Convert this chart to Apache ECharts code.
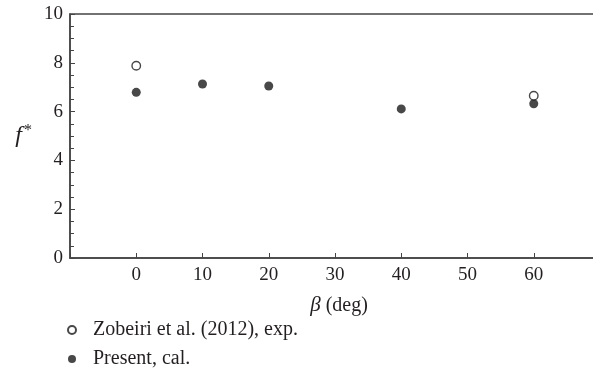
<!DOCTYPE html>
<html>
<head>
<meta charset="utf-8">
<script src="https://cdn.jsdelivr.net/npm/echarts@6/dist/echarts.min.js"></script>
<style>
  html, body { margin: 0; padding: 0; background: #fff; }
  #chart { width: 593px; height: 373px; }
</style>
</head>
<body>
<div id="chart"></div>
<script>
// angle beta (deg) and friction factor values
const expAngles = [0, 60];
const expValues = [7.88, 6.65];
const calAngles = [0, 10, 20, 40, 60];
const calValues = [6.79, 7.13, 7.05, 6.11, 6.32];
const seriesNames = ['Zobeiri et al. (2012), exp.', 'Present, cal.'];

const font = 'Liberation Serif';
const ink = '#231f20';

const chart = echarts.init(document.getElementById('chart'));

const option = {
    animation: false,
    textStyle: { fontFamily: font, color: ink },
    grid: {
        left: 70, top: 14, width: 530, height: 244,
        containLabel: false,
        outerBoundsMode: 'none',
        show: true, borderColor: '#444', borderWidth: 1.5
    },
    legend: {
        orient: 'vertical',
        left: 67, top: 320,
        padding: 0,
        itemWidth: 8, itemHeight: 8,
        itemGap: 9,
        icon: 'circle',
        textStyle: { fontFamily: font, fontSize: 20, lineHeight: 20, color: ink, padding: [0, 0, 0, 12] },
        data: seriesNames
    },
    xAxis: {
        type: 'value',
        min: -10, max: 70, interval: 10,
        name: '{i|β} (deg)',
        nameLocation: 'middle',
        nameGap: 37,
        nameTextStyle: {
            fontFamily: font, fontSize: 20, color: ink, padding: [0, 0, 0, 8],
            rich: { i: { fontFamily: font, fontStyle: 'italic', fontSize: 21, color: ink } }
        },
        axisLine: { lineStyle: { color: '#444', width: 1.5 } },
        axisTick: { inside: true, length: 5, lineStyle: { color: '#444' } },
        axisLabel: {
            fontSize: 19, color: ink, margin: 8,
            formatter: v => (v < 0 || v > 60) ? '' : String(v)
        },
        splitLine: { show: false }
    },
    yAxis: {
        type: 'value',
        min: 0, max: 10, interval: 2,
        name: '{f|f}{s|*}',
        nameLocation: 'middle',
        nameRotate: 0,
        nameGap: 38,
        nameTextStyle: {
            rich: {
                f: { fontFamily: font, fontStyle: 'italic', fontSize: 24, color: ink },
                s: { fontFamily: font, fontSize: 16, color: ink, padding: [0, 0, 10, 2] }
            }
        },
        axisLine: { onZero: false, lineStyle: { color: '#444', width: 1.5 } },
        axisTick: { inside: true, length: 5, lineStyle: { color: '#444' } },
        minorTick: { show: true, splitNumber: 4, length: 4, lineStyle: { color: '#444' } },
        axisLabel: { fontSize: 19, color: ink, margin: 7 },
        splitLine: { show: false }
    },
    series: [
        {
            name: seriesNames[0],
            type: 'scatter',
            symbol: 'circle',
            symbolSize: 8.5,
            itemStyle: { color: '#fff', borderColor: '#1a1a1a', borderWidth: 1.4 },
            data: expAngles.map((a, i) => [a, expValues[i]]),
            z: 3
        },
        {
            name: seriesNames[1],
            type: 'scatter',
            symbol: 'circle',
            symbolSize: 9,
            itemStyle: { color: '#1a1a1a' },
            data: calAngles.map((a, i) => [a, calValues[i]]),
            z: 2
        }
    ]
};

chart.setOption(option);
</script>
</body>
</html>
